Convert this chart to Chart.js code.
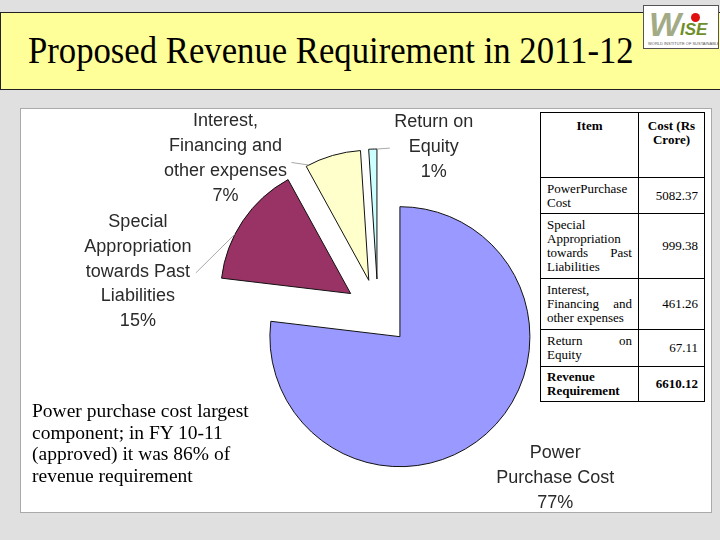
<!DOCTYPE html>
<html>
<head>
<meta charset="utf-8">
<script src="https://cdn.jsdelivr.net/npm/chart.js@4.4.0/dist/chart.umd.min.js"></script>
<style>
  html, body { margin: 0; padding: 0; }
  body { width: 720px; height: 540px; background: #e0e0e0; position: relative; overflow: hidden; font-family: "Liberation Serif", serif; }
  #titlebar { position: absolute; left: 0; top: 12px; width: 740px; height: 76px; background: #ffff99; border: 1px solid #222; }
  #title { position: absolute; left: 28px; top: 32px; font-size: 34.7px; color: #000; white-space: nowrap; transform: scaleY(1.1); transform-origin: 0 80%; }
  #logo { position: absolute; left: 643px; top: 5px; width: 74px; height: 42px; background: #fff; border: 1px solid #555; z-index: 2; overflow: hidden; }
  #logo .w { position: absolute; left: 5px; top: -1px; font: italic bold 34px "Liberation Sans", sans-serif; color: #a3ab86; letter-spacing: -4px; }
  #logo .ise { position: absolute; left: 36px; top: 14px; font: italic bold 17px "Liberation Sans", sans-serif; color: #6f8f2a; }
  #logo .dot { position: absolute; left: 47px; top: 7px; width: 9px; height: 9px; border-radius: 50%; background: #e01010; }
  #logo .tag { position: absolute; left: 4px; top: 35px; font: 4px "Liberation Sans", sans-serif; color: #555; white-space: nowrap; }
  #panel { position: absolute; left: 20px; top: 108px; width: 690px; height: 403px; background: #fff; border: 1px solid #aaa; }
  #chart { position: absolute; left: 0; top: 0; z-index: 2; pointer-events: none; }
  #tbl { position: absolute; left: 540px; top: 112px; z-index: 3; border-collapse: collapse; background: #fff; font-size: 13px; line-height: 14px; table-layout: fixed; }
  #tbl td { border: 1px solid #000; padding: 3px 6px; vertical-align: middle; overflow: hidden; }
  #tbl td.item { width: 85px; text-align: justify; text-align-last: left; }
  #tbl td.val { width: 53px; text-align: right; }
  #tbl tr.head td { text-align: center; text-align-last: center; vertical-align: top; font-weight: bold; padding-top: 6px; }
  #tbl tr.total td { font-weight: bold; }
  #note { position: absolute; left: 32px; top: 400px; z-index: 3; font-size: 19.5px; line-height: 21.7px; color: #000; white-space: nowrap; }
</style>
</head>
<body>
<div id="titlebar"></div>
<div id="title">Proposed Revenue Requirement in 2011-12</div>
<div id="logo"><span class="w">W</span><span class="dot"></span><span class="ise">ISE</span><span class="tag">WORLD INSTITUTE OF SUSTAINABLE ENERGY</span></div>
<div id="panel"></div>
<canvas id="chart" width="720" height="540"></canvas>
<table id="tbl"></table>
<div id="note">Power purchase cost largest<br>component; in FY 10-11<br>(approved) it was 86% of<br>revenue requirement</div>
<script>
// pie data (Rs Crore)
const categories = [
    ['Power', 'Purchase Cost'],
    ['Special', 'Appropriation', 'towards Past', 'Liabilities'],
    ['Interest,', 'Financing and', 'other expenses'],
    ['Return on', 'Equity']
];
const values = [5082.37, 999.38, 461.26, 67.11];
const sliceColors = ['#9999ff', '#993366', '#ffffcc', '#ccffff'];

// table data
const tableItems = ['PowerPurchase Cost', 'Special Appropriation towards Past Liabilities', 'Interest, Financing and other expenses', 'Return on Equity'];
const tableHeader = ['Item', 'Cost (Rs Crore)'];
const totalLabel = 'Revenue Requirement';

const total = values.reduce((a, b) => a + b, 0);

// build table
const tbl = document.getElementById('tbl');
const rowHeights = [65, 36, 65, 51, 37, 34];
let html = '<tr class="head" style="height:' + rowHeights[0] + 'px"><td class="item">' + tableHeader[0] + '</td><td class="val">' + tableHeader[1] + '</td></tr>';
tableItems.forEach((name, i) => {
    html += '<tr style="height:' + rowHeights[i + 1] + 'px"><td class="item">' + name + '</td><td class="val">' + values[i].toFixed(2) + '</td></tr>';
});
html += '<tr class="total" style="height:' + rowHeights[5] + 'px"><td class="item">' + totalLabel + '</td><td class="val">' + total.toFixed(2) + '</td></tr>';
tbl.innerHTML = html;

// Excel style exploded pie: every slice pushed out along its bisector,
// then labels outside with grey leader lines
const explodedPie = {
    id: 'explodedPie',
    beforeDatasetDraw(chart, args, opts) {
        const ctx = chart.ctx;
        args.meta.data.forEach(arc => {
            const mid = (arc.startAngle + arc.endAngle) / 2;
            ctx.save();
            ctx.translate(Math.cos(mid) * opts.explode, Math.sin(mid) * opts.explode);
            arc.draw(ctx, chart.chartArea);
            ctx.restore();
        });
        return false;
    },
    afterDatasetsDraw(chart, args, opts) {
        const ctx = chart.ctx;
        const meta = chart.getDatasetMeta(0);
        meta.data.forEach((arc, i) => {
            const mid = (arc.startAngle + arc.endAngle) / 2;
            const R = arc.outerRadius;
            const cx = arc.x + Math.cos(mid) * opts.explode;
            const cy = arc.y + Math.sin(mid) * opts.explode;
            const ex = cx + Math.cos(mid) * R;
            const ey = cy + Math.sin(mid) * R;
            const lay = opts.layout[i];
            const lx = ex + lay.dx;
            const ly = ey + lay.dy;

            ctx.save();
            if (lay.lead) {
                const a = arc.startAngle + (arc.endAngle - arc.startAngle) * lay.lead.frac;
                ctx.strokeStyle = '#a8a8a8';
                ctx.lineWidth = 1;
                ctx.beginPath();
                ctx.moveTo(cx + Math.cos(a) * R, cy + Math.sin(a) * R);
                ctx.lineTo(lx + lay.lead.ex, ly + lay.lead.ey);
                ctx.stroke();
            }
            const lines = categories[i].concat([Math.round(values[i] / total * 100) + '%']);
            ctx.font = '18px "Liberation Sans", Arial, sans-serif';
            ctx.fillStyle = '#2a2a2a';
            ctx.textAlign = 'center';
            ctx.textBaseline = 'middle';
            const lh = 24.7;
            const top = ly - (lines.length - 1) * lh / 2;
            lines.forEach((t, k) => ctx.fillText(t, lx, top + k * lh));
            ctx.restore();
        });
    }
};

new Chart(document.getElementById('chart'), {
    type: 'pie',
    data: {
        labels: categories,
        datasets: [{
            data: values,
            backgroundColor: sliceColors,
            borderColor: '#111',
            borderWidth: 1,
            radius: 130
        }]
    },
    plugins: [explodedPie],
    options: {
        responsive: false,
        animation: false,
        events: [],
        layout: { padding: { left: 36, right: 0, top: 84, bottom: 0 } },
        plugins: {
            legend: { display: false },
            tooltip: { enabled: false },
            explodedPie: {
                explode: 33,
                layout: [
                    { dx: 69, dy: 44, lead: null },
                    { dx: -105, dy: 51, lead: { frac: 0.375, ex: 58, ey: 1 } },
                    { dx: -107, dy: 3, lead: { frac: 0.05, ex: 66, ey: 4 } },
                    { dx: 61, dy: -2, lead: { frac: 1, ex: -44, ey: 1 } }
                ]
            }
        }
    }
});
</script>
</body>
</html>
